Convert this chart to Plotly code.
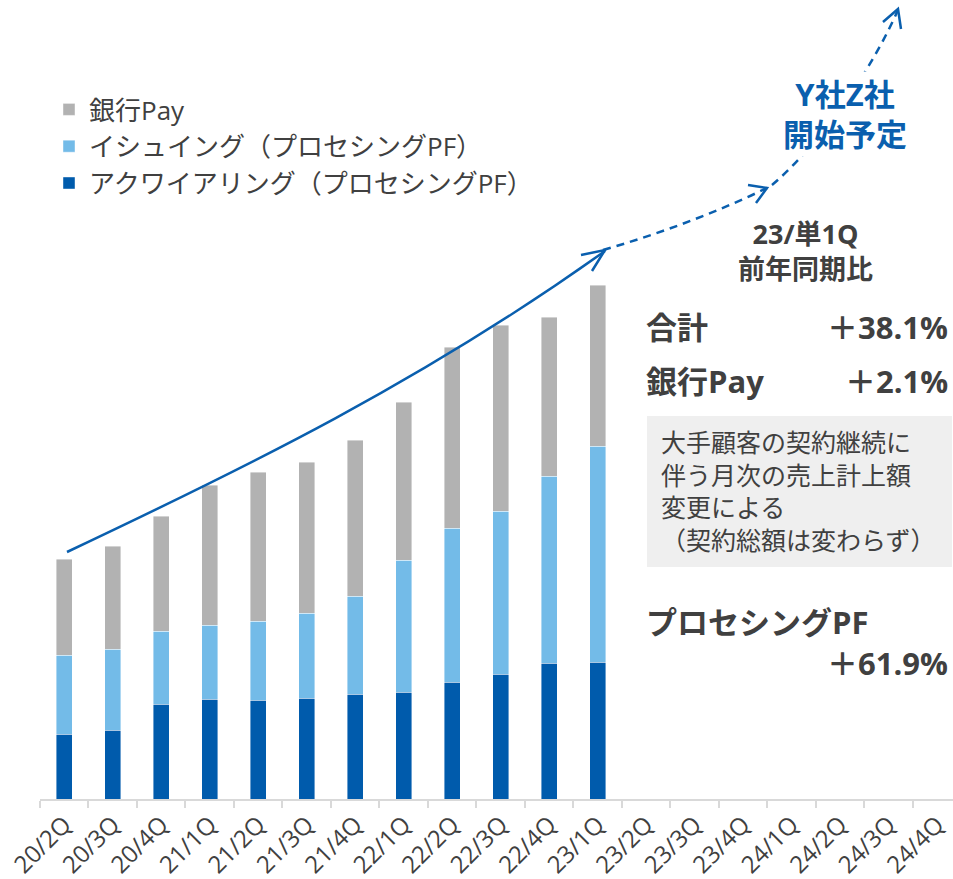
import plotly.graph_objects as go

# ---- data (arbitrary units) ----
categories = ["20/2Q", "20/3Q", "20/4Q", "21/1Q", "21/2Q", "21/3Q", "21/4Q",
              "22/1Q", "22/2Q", "22/3Q", "22/4Q", "23/1Q",
              "23/2Q", "23/3Q", "23/4Q", "24/1Q", "24/2Q", "24/3Q", "24/4Q"]
actual_quarters = categories[:12]
acquiring = [65, 69, 95, 100, 99, 101, 105, 107, 117, 125, 136, 137]
issuing = [79, 81, 73, 74, 79, 85, 98, 132, 154, 163, 187, 216]
bank_pay = [96, 103, 115, 140, 149, 151, 156, 158, 181, 186, 159, 161]

series_names = ["アクワイアリング（プロセシングPF）", "イシュイング（プロセシングPF）", "銀行Pay"]
series_colors = ["#005bac", "#73bbe8", "#b2b2b2"]

W, H = 953, 879
ML, MB = 40, 80
PLOT_W, PLOT_H = W - ML, H - MB

FONT = "Open Sans, Noto Sans CJK JP, sans-serif"
TXT = "#404040"
BLUE = "#0a5fae"


def X(p):
    return (p - ML) / PLOT_W


def Y(p):
    return (PLOT_H - p) / PLOT_H


def path(cmds):
    out = []
    for c in cmds:
        if isinstance(c, str):
            out.append(c)
        else:
            out.append(f"{X(c[0]):.5f},{Y(c[1]):.5f}")
    return " ".join(out)


fig = go.Figure()
for name, vals, col in zip(series_names, [acquiring, issuing, bank_pay], series_colors):
    fig.add_trace(go.Bar(x=actual_quarters, y=vals, name=name,
                         marker=dict(color=col, line=dict(width=0.6, color="rgba(255,255,255,0.7)"))))

shapes = []
# gray note box
shapes.append(dict(type="rect", xref="paper", yref="paper",
                   x0=X(647), x1=X(952), y0=Y(567), y1=Y(416),
                   fillcolor="#efefef", line=dict(width=0), layer="below"))
# solid growth curve
shapes.append(dict(type="path", xref="paper", yref="paper",
                   path=path(["M", (67, 552), "C", (247, 467), (423, 381), (605, 251)]),
                   line=dict(color=BLUE, width=2.5)))
shapes.append(dict(type="path", xref="paper", yref="paper",
                   path=path(["M", (581, 255), "L", (605, 250), "L", (592, 271)]),
                   line=dict(color=BLUE, width=2.5)))
# dashed continuation 1
shapes.append(dict(type="path", xref="paper", yref="paper",
                   path=path(["M", (603, 250), "Q", (690, 225), (767, 188)]),
                   line=dict(color=BLUE, width=2.5, dash="8px,6px")))
shapes.append(dict(type="path", xref="paper", yref="paper",
                   path=path(["M", (748, 185), "L", (767, 188), "L", (756, 203)]),
                   line=dict(color=BLUE, width=2.5)))
# dashed continuation 2
shapes.append(dict(type="path", xref="paper", yref="paper",
                   path=path(["M", (772, 185), "C", (800, 162), (860, 95), (898, 10)]),
                   line=dict(color=BLUE, width=2.5, dash="8px,6px")))
shapes.append(dict(type="path", xref="paper", yref="paper",
                   path=path(["M", (883, 22), "L", (898, 9), "L", (901, 29)]),
                   line=dict(color=BLUE, width=2.5)))

ann = []


def add_text(text, x, y, size, color=TXT, bold=False, xanchor="left", align="left", bg=None):
    t = f"<b>{text}</b>" if bold else text
    d = dict(text=t, xref="paper", yref="paper", x=X(x), y=Y(y), xanchor=xanchor,
             yanchor="middle", showarrow=False, align=align,
             font=dict(size=size, color=color, family=FONT))
    if bg:
        d["bgcolor"] = bg
    ann.append(d)


add_text("Y社Z社<br>開始予定", 845, 114, 31, color=BLUE, bold=True, xanchor="center", align="center", bg="white")
add_text("23/単1Q<br>前年同期比", 805, 251, 27, bold=True, xanchor="center", align="center")
add_text("合計", 644, 327, 31, bold=True)
add_text("＋38.1%", 950, 327, 31, bold=True, xanchor="right", align="right")
add_text("銀行Pay", 644, 381, 31, bold=True)
add_text("＋2.1%", 950, 381, 31, bold=True, xanchor="right", align="right")
add_text("大手顧客の契約継続に<br>伴う月次の売上計上額<br>変更による<br>（契約総額は変わらず）",
         659, 491, 25)
add_text("プロセシングPF", 644, 622, 31, bold=True)
add_text("＋61.9%", 950, 663, 31, bold=True, xanchor="right", align="right")

fig.update_layout(
    width=W, height=H,
    margin=dict(l=ML, r=0, t=0, b=MB, pad=0),
    paper_bgcolor="white", plot_bgcolor="white",
    barmode="stack", bargap=0.67,
    font=dict(family=FONT, color=TXT),
    showlegend=True,
    legend=dict(x=X(49), y=Y(86), xanchor="left", yanchor="top",
                traceorder="reversed", font=dict(size=26, color=TXT, family=FONT),
                bgcolor="rgba(0,0,0,0)", tracegroupgap=0),
    xaxis=dict(type="category", categoryorder="array", categoryarray=categories,
               range=[-0.5, 18.33], showline=True, linecolor="#d9d9d9", linewidth=2,
               ticks="outside", tickson="boundaries", ticklen=7, tickcolor="#d9d9d9",
               tickwidth=2, tickangle=-45, showgrid=False, zeroline=False,
               tickfont=dict(size=24, color=TXT, family=FONT)),
    yaxis=dict(range=[0, PLOT_H], visible=False, showgrid=False, zeroline=False),
    shapes=shapes, annotations=ann,
)

fig.write_html("out.html", config={"displayModeBar": False},
               post_script="document.body.style.margin='0';document.body.style.padding='0';")
